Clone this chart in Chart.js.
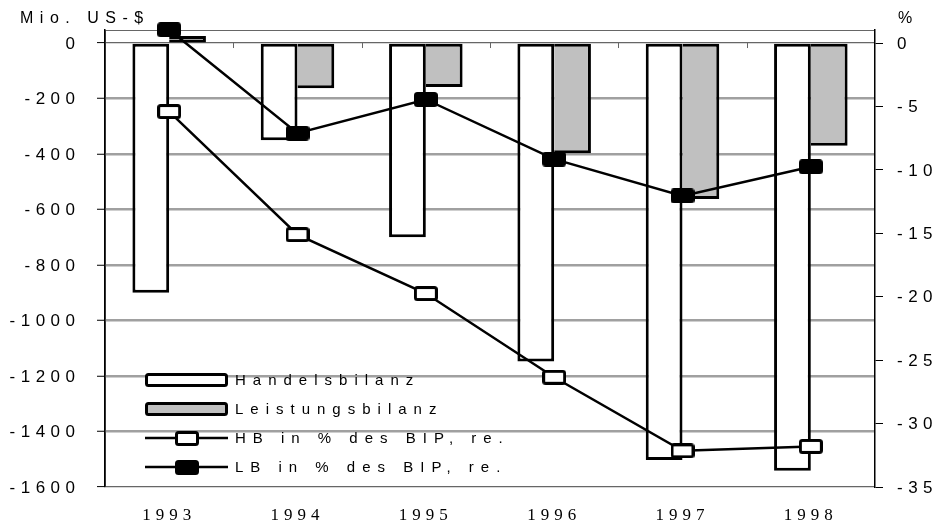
<!DOCTYPE html>
<html>
<head>
<meta charset="utf-8">
<script src="https://cdn.jsdelivr.net/npm/chart.js@4/dist/chart.umd.min.js"></script>
<style>
  html, body { margin: 0; padding: 0; background: #fff; }
  #wrap { width: 937px; height: 524px; position: relative; }
</style>
</head>
<body>
<div id="wrap"><canvas id="c"></canvas></div>
<script>
  // ── Data ───────────────────────────────────────────────────────────────────
  const years           = ['1993', '1994', '1995', '1996', '1997', '1998'];
  const handelsbilanz   = [-900, -350, -700, -1148, -1503, -1541];
  const leistungsbilanz = [25, -163, -158, -397, -562, -370];
  const hbProzent       = [-5.4, -15.1, -19.75, -26.35, -32.15, -31.8];
  const lbProzent       = [1.05, -7.1, -4.45, -9.15, -12.05, -9.75];
  const leftTicks       = [0, -200, -400, -600, -800, -1000, -1200, -1400, -1600];
  const rightTicks      = [0, -5, -10, -15, -20, -25, -30, -35];
  const seriesNames     = ['Handelsbilanz', 'Leistungsbilanz', 'HB in % des BIP, re.', 'LB in % des BIP, re.'];

  const SANS  = '"Liberation Sans", Arial, sans-serif';
  const SERIF = '"Liberation Serif", "Times New Roman", serif';

  // ── Rectangular markers ────────────────────────────────────────────────────
  function marker(fill) {
    const cv = document.createElement('canvas');
    cv.width = 24; cv.height = 15;
    const c = cv.getContext('2d');
    c.fillStyle = fill;
    c.strokeStyle = '#000';
    c.lineWidth = 3;
    c.beginPath();
    c.roundRect(1.5, 1.5, 21, 12, 2);
    c.fill();
    c.stroke();
    return cv;
  }
  const whiteMark = marker('#fff');
  const blackMark = marker('#000');

  // ── Plugins ────────────────────────────────────────────────────────────────
  const frame = {
    id: 'frame',
    beforeDraw(chart) {
      const ctx = chart.ctx, a = chart.chartArea;
      ctx.letterSpacing = '5px';
      ctx.save();
      ctx.strokeStyle = '#666';
      ctx.lineWidth = 1;
      ctx.strokeRect(a.left + 0.5, a.top + 0.5, a.right - a.left - 1, a.bottom - a.top - 1);
      ctx.restore();
    }
  };

  const zeroTicks = {
    id: 'zeroTicks',
    beforeDatasetsDraw(chart) {
      const ctx = chart.ctx, x = chart.scales.x, y0 = chart.scales.y.getPixelForValue(0);
      ctx.save();
      ctx.strokeStyle = '#666';
      ctx.lineWidth = 1;
      for (let i = 0; i < years.length - 1; i++) {
        const xb = Math.round((x.getPixelForValue(i) + x.getPixelForValue(i + 1)) / 2) + 0.5;
        ctx.beginPath();
        ctx.moveTo(xb, y0);
        ctx.lineTo(xb, y0 + 5);
        ctx.stroke();
      }
      ctx.restore();
    }
  };

  const labels = {
    id: 'labels',
    afterDraw(chart) {
      const ctx = chart.ctx, y = chart.scales.y, y2 = chart.scales.y2;
      ctx.save();
      ctx.fillStyle = '#000';

      // axis tick labels
      ctx.letterSpacing = '5.5px';
      ctx.font = '17px ' + SANS;
      ctx.textBaseline = 'middle';
      ctx.textAlign = 'right';
      leftTicks.forEach(v => ctx.fillText(String(v), 75 + 5.5, y.getPixelForValue(v) + 1));
      ctx.textAlign = 'left';
      rightTicks.forEach(v => ctx.fillText(String(v), 897, y2.getPixelForValue(v) + 1));

      // axis titles
      ctx.letterSpacing = '6.5px';
      ctx.font = '16px ' + SANS;
      ctx.textBaseline = 'alphabetic';
      ctx.fillText('Mio. US-$', 20, 23);
      ctx.fillText('%', 898, 23);

      // legend
      const x0 = 145, w = 83, rows = [380, 409, 438, 467];
      chart.data.datasets.forEach((ds, i) => {
        const ry = rows[i];
        if (ds.type === 'bar') {
          ctx.fillStyle = ds.backgroundColor;
          ctx.strokeStyle = '#000';
          ctx.lineWidth = 3;
          ctx.beginPath();
          ctx.roundRect(x0 + 1.5, ry - 5.5, w - 3, 11, 2);
          ctx.fill();
          ctx.stroke();
        } else {
          ctx.strokeStyle = '#000';
          ctx.lineWidth = 2.5;
          ctx.beginPath();
          ctx.moveTo(x0, ry);
          ctx.lineTo(x0 + w, ry);
          ctx.stroke();
          const m = ds.pointStyle;
          ctx.drawImage(m, Math.round(x0 + w / 2 - m.width / 2), Math.round(ry - m.height / 2));
        }
        ctx.fillStyle = '#000';
        ctx.letterSpacing = '7px';
        ctx.font = '15px ' + SANS;
        ctx.textBaseline = 'middle';
        ctx.fillText(ds.label, x0 + w + 7, ry + 1);
      });
      ctx.restore();
    }
  };

  // ── Chart ──────────────────────────────────────────────────────────────────
  new Chart(document.getElementById('c'), {
    data: {
      labels: years,
      datasets: [
        {
          type: 'bar', label: seriesNames[0], data: handelsbilanz, yAxisID: 'y', order: 2,
          backgroundColor: '#ffffff', borderColor: '#000', borderWidth: 3, borderSkipped: false,
          categoryPercentage: 0.573, barPercentage: 1
        },
        {
          type: 'bar', label: seriesNames[1], data: leistungsbilanz, yAxisID: 'y', order: 2,
          backgroundColor: '#c0c0c0', borderColor: '#000',
          borderWidth: { top: 3, right: 3, bottom: 3, left: 0 }, borderSkipped: false,
          categoryPercentage: 0.573, barPercentage: 1
        },
        {
          type: 'line', label: seriesNames[2], data: hbProzent, yAxisID: 'y2', order: 0,
          borderColor: '#000', borderWidth: 2.5, tension: 0, clip: false,
          pointStyle: whiteMark, pointRadius: 8
        },
        {
          type: 'line', label: seriesNames[3], data: lbProzent, yAxisID: 'y2', order: 0,
          borderColor: '#000', borderWidth: 2.5, tension: 0, clip: false,
          pointStyle: blackMark, pointRadius: 8
        }
      ]
    },
    options: {
      responsive: true,
      maintainAspectRatio: false,
      animation: false,
      layout: { padding: { top: 30, left: 0, right: 0, bottom: 0 } },
      plugins: { legend: { display: false }, tooltip: { enabled: false } },
      scales: {
        x: {
          offset: true,
          grid: { display: false, drawTicks: false },
          border: { display: false },
          ticks: { color: '#000', font: { family: SERIF, size: 17 }, padding: 18, maxRotation: 0, autoSkip: false },
          afterFit(s) { s.height = 37; }
        },
        y: {
          position: 'left',
          min: -1600, max: 47,
          afterBuildTicks(s) { s.ticks = leftTicks.map(v => ({ value: v })); },
          grid: {
            color: c => (c.tick && (c.tick.value === 0 || c.tick.value === -1600)) ? '#666' : '#a0a0a0',
            lineWidth: c => (c.tick && (c.tick.value === 0 || c.tick.value === -1600)) ? 1.2 : 2.5,
            tickColor: '#000', tickWidth: 1, tickLength: 8
          },
          border: { display: true, color: '#000', width: 1.5 },
          ticks: { display: false },
          afterFit(s) { s.width = 105; }
        },
        y2: {
          position: 'right',
          min: -35, max: 47 * 35 / 1600,
          afterBuildTicks(s) { s.ticks = rightTicks.map(v => ({ value: v })); },
          grid: { drawOnChartArea: false, tickColor: '#000', tickWidth: 1, tickLength: 8 },
          border: { display: true, color: '#000', width: 1.5 },
          ticks: { display: false },
          afterFit(s) { s.width = 62; }
        }
      }
    },
    plugins: [frame, zeroTicks, labels]
  });
</script>
</body>
</html>
